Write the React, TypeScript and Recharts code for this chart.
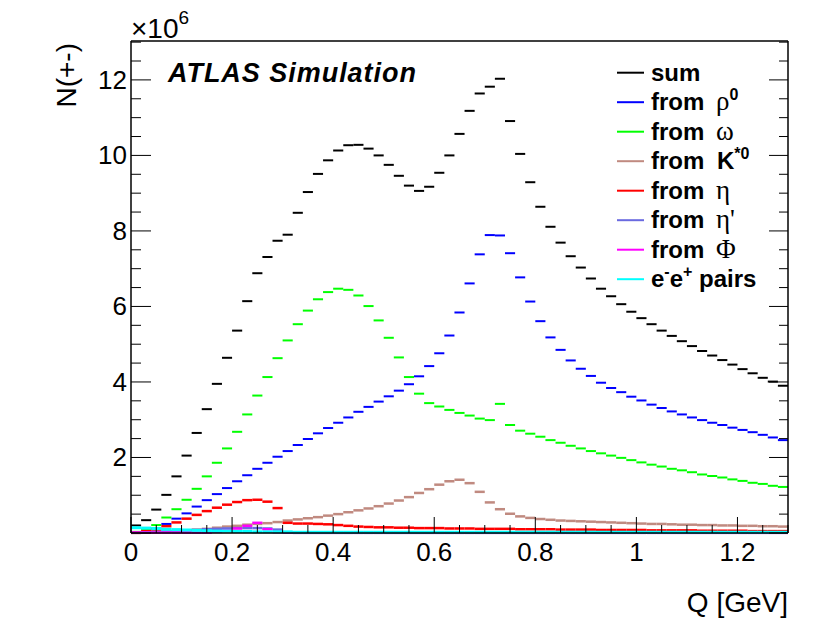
import React from 'react';
import { ComposedChart, Scatter, ErrorBar, XAxis, YAxis, Legend } from 'recharts';

// ---------- data ----------
const qBins = [
  0.01, 0.03, 0.05, 0.07, 0.09, 0.11, 0.13, 0.15, 0.17, 0.19,
  0.21, 0.23, 0.25, 0.27, 0.29, 0.31, 0.33, 0.35, 0.37, 0.39,
  0.41, 0.43, 0.45, 0.47, 0.49, 0.51, 0.53, 0.55, 0.57, 0.59,
  0.61, 0.63, 0.65, 0.67, 0.69, 0.71, 0.73, 0.75, 0.77, 0.79,
  0.81, 0.83, 0.85, 0.87, 0.89, 0.91, 0.93, 0.95, 0.97, 0.99,
  1.01, 1.03, 1.05, 1.07, 1.09, 1.11, 1.13, 1.15, 1.17, 1.19,
  1.21, 1.23, 1.25, 1.27, 1.29,
];
const binHalfWidth = 0.01;

const sumVals = [
  0.20, 0.34, 0.62, 1.01, 1.50, 2.05, 2.65, 3.28, 3.95, 4.64,
  5.36, 6.14, 6.88, 7.31, 7.74, 7.90, 8.48, 9.03, 9.51, 9.87,
  10.13, 10.27, 10.28, 10.18, 10.00, 9.75, 9.46, 9.20, 9.06, 9.17,
  9.54, 10.00, 10.57, 11.18, 11.64, 11.82, 12.03, 10.91, 10.04, 9.29,
  8.64, 8.11, 7.69, 7.33, 7.03, 6.74, 6.47, 6.27, 6.06, 5.86,
  5.69, 5.53, 5.36, 5.22, 5.08, 4.95, 4.82, 4.70, 4.58, 4.46,
  4.34, 4.23, 4.11, 4.01, 3.90,
];
const rhoVals = [
  0.01, 0.04, 0.12, 0.24, 0.38, 0.52, 0.70, 0.87, 1.03, 1.19,
  1.37, 1.53, 1.70, 1.86, 2.02, 2.17, 2.33, 2.49, 2.64, 2.78,
  2.92, 3.06, 3.21, 3.34, 3.48, 3.62, 3.77, 3.94, 4.15, 4.42,
  4.76, 5.23, 5.84, 6.61, 7.38, 7.89, 7.88, 7.41, 6.77, 6.13,
  5.61, 5.18, 4.85, 4.57, 4.35, 4.16, 3.98, 3.84, 3.73, 3.61,
  3.51, 3.40, 3.31, 3.22, 3.14, 3.06, 2.99, 2.92, 2.86, 2.79,
  2.73, 2.67, 2.60, 2.53, 2.46,
];
const omegaVals = [
  0.03, 0.10, 0.21, 0.41, 0.63, 0.88, 1.17, 1.50, 1.86, 2.24,
  2.68, 3.14, 3.64, 4.13, 4.63, 5.10, 5.53, 5.89, 6.19, 6.38,
  6.47, 6.44, 6.29, 6.01, 5.63, 5.17, 4.65, 4.13, 3.69, 3.44,
  3.35, 3.26, 3.18, 3.11, 3.03, 2.99, 3.42, 2.86, 2.71, 2.63,
  2.55, 2.46, 2.39, 2.31, 2.24, 2.17, 2.11, 2.05, 1.99, 1.93,
  1.87, 1.81, 1.76, 1.70, 1.66, 1.61, 1.55, 1.51, 1.47, 1.42,
  1.38, 1.33, 1.30, 1.25, 1.22,
];
const kstarVals = [
  0.00, 0.01, 0.02, 0.03, 0.05, 0.07, 0.09, 0.11, 0.14, 0.17,
  0.19, 0.22, 0.24, 0.26, 0.29, 0.33, 0.36, 0.39, 0.42, 0.46,
  0.50, 0.55, 0.60, 0.65, 0.71, 0.78, 0.86, 0.95, 1.06, 1.16,
  1.28, 1.37, 1.41, 1.32, 1.09, 0.81, 0.63, 0.51, 0.44, 0.40,
  0.37, 0.35, 0.33, 0.32, 0.31, 0.30, 0.29, 0.28, 0.27, 0.26,
  0.25, 0.24, 0.24, 0.23, 0.22, 0.22, 0.21, 0.21, 0.20, 0.20,
  0.19, 0.19, 0.18, 0.18, 0.17,
];
const etaVals = [
  0.02, 0.05, 0.09, 0.18, 0.28, 0.38, 0.48, 0.58, 0.67, 0.75,
  0.82, 0.87, 0.88, 0.83, 0.66, 0.27, 0.25, 0.25, 0.24, 0.23,
  0.21, 0.19, 0.17, 0.16, 0.15, 0.15, 0.14, 0.14, 0.13, 0.13,
  0.13, 0.12, 0.12, 0.12, 0.11, 0.11, 0.11, 0.11, 0.10, 0.10,
  0.10, 0.10, 0.09, 0.09, 0.09, 0.09, 0.08, 0.08, 0.08, 0.08,
  0.08, 0.07, 0.07, 0.07, 0.07, 0.07, 0.06, 0.06, 0.06, 0.06,
  0.06, 0.05, 0.05, 0.05, 0.05,
];
const etaPrimeVals = [
  0.01, 0.02, 0.03, 0.04, 0.05, 0.06, 0.08, 0.10, 0.11, 0.12,
  0.13, 0.13, 0.13, 0.12, 0.09, 0.01, 0.005, 0.005, 0.005, 0.005,
  0.005, 0.005, 0.005, 0.005, 0.005, 0.005, 0.005, 0.005, 0.005, 0.005,
  0.005, 0.005, 0.005, 0.005, 0.005, 0.005, 0.005, 0.005, 0.005, 0.005,
  0.005, 0.005, 0.005, 0.005, 0.005, 0.005, 0.005, 0.005, 0.005, 0.005,
  0.005, 0.005, 0.005, 0.005, 0.005, 0.005, 0.005, 0.005, 0.005, 0.005,
  0.005, 0.005, 0.005, 0.005, 0.005,
];
const phiVals = [
  0.01, 0.01, 0.01, 0.01, 0.01, 0.01, 0.01, 0.01, 0.03, 0.06,
  0.12, 0.19, 0.27, 0.10, 0.02, 0.01, 0.005, 0.005, 0.005, 0.005,
  0.005, 0.005, 0.005, 0.005, 0.005, 0.005, 0.005, 0.005, 0.005, 0.005,
  0.005, 0.005, 0.005, 0.005, 0.005, 0.005, 0.005, 0.005, 0.005, 0.005,
  0.005, 0.005, 0.005, 0.005, 0.005, 0.005, 0.005, 0.005, 0.005, 0.005,
  0.005, 0.005, 0.005, 0.005, 0.005, 0.005, 0.005, 0.005, 0.005, 0.005,
  0.005, 0.005, 0.005, 0.005, 0.005,
];
const eePairVals = [
  0.14, 0.13, 0.12, 0.10, 0.09, 0.08, 0.07, 0.06, 0.05, 0.05,
  0.04, 0.04, 0.03, 0.03, 0.03, 0.03, 0.02, 0.02, 0.02, 0.02,
  0.02, 0.02, 0.02, 0.02, 0.02, 0.02, 0.02, 0.02, 0.02, 0.02,
  0.02, 0.02, 0.02, 0.02, 0.02, 0.02, 0.02, 0.02, 0.02, 0.02,
  0.02, 0.02, 0.02, 0.02, 0.02, 0.02, 0.02, 0.02, 0.02, 0.02,
  0.02, 0.02, 0.02, 0.02, 0.02, 0.02, 0.02, 0.02, 0.02, 0.02,
  0.02, 0.02, 0.02, 0.02, 0.02,
];

const xMajorTicks = [0, 0.2, 0.4, 0.6, 0.8, 1.0, 1.2];
const xTickLabels = ['0', '0.2', '0.4', '0.6', '0.8', '1', '1.2'];
const xMinorTicks = [
  0.05, 0.1, 0.15, 0.25, 0.3, 0.35, 0.45, 0.5, 0.55, 0.65, 0.7, 0.75,
  0.85, 0.9, 0.95, 1.05, 1.1, 1.15, 1.25, 1.3,
];
const yMajorTicks = [0, 2, 4, 6, 8, 10, 12];
const yTickLabels = ['', '2', '4', '6', '8', '10', '12'];
const yMinorTicks = [
  0.5, 1, 1.5, 2.5, 3, 3.5, 4.5, 5, 5.5, 6.5, 7, 7.5, 8.5, 9, 9.5,
  10.5, 11, 11.5, 12.5, 13,
];

// ---------- styling ----------
const SANS = '"Liberation Sans", Arial, Helvetica, sans-serif';
const SERIF = '"Liberation Serif", "DejaVu Serif", serif';

const seriesDefs = [
  { key: 'sum', color: '#000000', vals: sumVals, w: 2 },
  { key: 'rho', color: '#0000ff', vals: rhoVals, w: 2 },
  { key: 'omega', color: '#00ff00', vals: omegaVals, w: 2 },
  { key: 'kstar', color: '#c08a80', vals: kstarVals, w: 2.5 },
  { key: 'eta', color: '#ff0000', vals: etaVals, w: 2.5 },
  { key: 'etaprime', color: '#6a6ae0', vals: etaPrimeVals, w: 2.5 },
  { key: 'phi', color: '#ff00ff', vals: phiVals, w: 2.5 },
  { key: 'ee', color: '#00ffff', vals: eePairVals, w: 3 },
];
const seriesOrder = seriesDefs.map((s) => s.key);

const near = (a: number, b: number) => Math.abs(a - b) < 1e-6;
const xLabelFor = (v: number) => {
  const i = xMajorTicks.findIndex((t) => near(t, v));
  return i >= 0 ? xTickLabels[i] : null;
};
const yLabelFor = (v: number) => {
  const i = yMajorTicks.findIndex((t) => near(t, v));
  return i >= 0 ? yTickLabels[i] : null;
};

const BottomTick = (props: any) => {
  const { x, y, payload } = props;
  const lab = xLabelFor(payload.value);
  const major = lab !== null;
  return (
    <g>
      <line x1={x} x2={x} y1={y} y2={y - (major ? 16 : 8)} stroke="#000" strokeWidth={1} />
      {major && (
        <text x={x} y={y + 28} textAnchor="middle" fontSize={26} fontFamily={SANS} fill="#000">
          {lab}
        </text>
      )}
    </g>
  );
};
const TopTick = (props: any) => {
  const { x, y, payload } = props;
  const major = xLabelFor(payload.value) !== null;
  return <line x1={x} x2={x} y1={y} y2={y + (major ? 14 : 7)} stroke="#000" strokeWidth={1} />;
};
const LeftTick = (props: any) => {
  const { x, y, payload } = props;
  const lab = yLabelFor(payload.value);
  const major = lab !== null;
  return (
    <g>
      <line x1={x} x2={x + (major ? 20 : 10)} y1={y} y2={y} stroke="#000" strokeWidth={1} />
      {major && lab !== '' && (
        <text x={x - 4} y={y + 9} textAnchor="end" fontSize={26} fontFamily={SANS} fill="#000">
          {lab}
        </text>
      )}
    </g>
  );
};
const RightTick = (props: any) => {
  const { x, y, payload } = props;
  const major = yLabelFor(payload.value) !== null;
  return <line x1={x} x2={x - (major ? 19 : 9)} y1={y} y2={y} stroke="#000" strokeWidth={1} />;
};

const NoShape = () => <g />;

const GREEK_X = 116;
const legendText = (key: string, base: number) => {
  const common = { x: 51, y: base, fontFamily: SANS, fontWeight: 'bold' as const, fontSize: 24, fill: '#000' };
  const greek = (s: string) => (
    <tspan x={GREEK_X} fontFamily={SERIF} fontWeight="normal" fontSize={27}>
      {s}
    </tspan>
  );
  switch (key) {
    case 'sum':
      return <text {...common}>sum</text>;
    case 'rho':
      return (
        <text {...common}>
          from{greek('ρ')}
          <tspan dy={-10} fontSize={16}>0</tspan>
        </text>
      );
    case 'omega':
      return <text {...common}>from{greek('ω')}</text>;
    case 'kstar':
      return (
        <text {...common}>
          from<tspan x={GREEK_X + 1}>K</tspan>
          <tspan dy={-10} fontSize={16}>*0</tspan>
        </text>
      );
    case 'eta':
      return <text {...common}>from{greek('η')}</text>;
    case 'etaprime':
      return <text {...common}>from{greek("η'")}</text>;
    case 'phi':
      return <text {...common}>from{greek('Φ')}</text>;
    default:
      return (
        <text {...common}>
          e<tspan dy={-10} fontSize={16}>-</tspan>
          <tspan dy={10}>e</tspan>
          <tspan dy={-10} fontSize={16}>+</tspan>
          <tspan dy={10}> pairs</tspan>
        </text>
      );
  }
};

const LegendBox = (props: any) => {
  const payload = [...(props.payload || [])].sort(
    (a: any, b: any) => seriesOrder.indexOf(String(a.value)) - seriesOrder.indexOf(String(b.value)),
  );
  return (
    <svg width={230} height={250} style={{ overflow: 'visible' }}>
      {payload.map((p: any, i: number) => {
        const ly = 22.7 + 29.5 * i;
        return (
          <g key={String(p.value)}>
            <line x1={17} x2={44} y1={ly} y2={ly} stroke={p.color} strokeWidth={2} />
            {legendText(String(p.value), ly + 8)}
          </g>
        );
      })}
    </svg>
  );
};

export default function App() {
  return (
    <div style={{ position: 'absolute', left: 0, top: 0, width: 830, height: 624, background: '#fff' }}>
      <ComposedChart
        width={830}
        height={624}
        margin={{ top: 40, right: 41, bottom: 90, left: 130 }}
      >
        <XAxis
          xAxisId={0}
          dataKey="x"
          type="number"
          domain={[0, 1.3]}
          allowDataOverflow
          ticks={[...xMajorTicks, ...xMinorTicks]}
          interval={0}
          height={1}
          tickSize={0}
          tickMargin={0}
          tickLine={false}
          tick={(p: any) => <BottomTick {...p} />}
          axisLine={{ stroke: '#000', strokeWidth: 1.5 }}
          label={{
            content: (lp: any) => {
              const vb = lp.viewBox || {};
              return (
                <text x={vb.x + vb.width} y={vb.y + 79} textAnchor="end" fontSize={28} fontFamily={SANS} fill="#000">
                  Q [GeV]
                </text>
              );
            },
          }}
        />
        <XAxis
          xAxisId="top"
          orientation="top"
          type="number"
          domain={[0, 1.3]}
          allowDataOverflow
          ticks={[...xMajorTicks, ...xMinorTicks]}
          interval={0}
          height={1}
          tickSize={0}
          tickMargin={0}
          tickLine={false}
          tick={(p: any) => <TopTick {...p} />}
          axisLine={{ stroke: '#000', strokeWidth: 1.5 }}
        />
        <YAxis
          yAxisId={0}
          dataKey="y"
          type="number"
          domain={[0, 13.03]}
          allowDataOverflow
          ticks={[...yMajorTicks, ...yMinorTicks]}
          interval={0}
          width={1}
          tickSize={0}
          tickMargin={0}
          tickLine={false}
          tick={(p: any) => <LeftTick {...p} />}
          axisLine={{ stroke: '#000', strokeWidth: 1.5 }}
          label={{
            content: (lp: any) => {
              const vb = lp.viewBox || {};
              const tx = vb.x + vb.width - 55;
              const ty = vb.y + 2;
              return (
                <text
                  x={tx}
                  y={ty}
                  transform={`rotate(-90 ${tx} ${ty})`}
                  textAnchor="end"
                  fontSize={28}
                  fontFamily={SANS}
                  fill="#000"
                >
                  N(+-)
                </text>
              );
            },
          }}
        />
        <YAxis
          yAxisId="right"
          orientation="right"
          type="number"
          domain={[0, 13.03]}
          allowDataOverflow
          ticks={[...yMajorTicks, ...yMinorTicks]}
          interval={0}
          width={1}
          tickSize={0}
          tickMargin={0}
          tickLine={false}
          tick={(p: any) => <RightTick {...p} />}
          axisLine={{ stroke: '#000', strokeWidth: 1.5 }}
        />
        {seriesDefs.map((s) => (
          <Scatter
            key={s.key}
            name={s.key}
            data={qBins.map((x, i) => ({ x, y: s.vals[i], ex: binHalfWidth }))}
            fill={s.color}
            shape={NoShape}
            isAnimationActive={false}
          >
            <ErrorBar
              dataKey="ex"
              direction="x"
              width={0}
              stroke={s.color}
              strokeWidth={s.w}
              isAnimationActive={false}
            />
          </Scatter>
        ))}
        <Legend
          layout="vertical"
          align="center"
          verticalAlign="middle"
          content={(p: any) => <LegendBox {...p} />}
          wrapperStyle={{ position: 'absolute', left: 600, top: 50, width: 230, height: 250 }}
        />
      </ComposedChart>
      <svg
        width={830}
        height={624}
        style={{ position: 'absolute', left: 0, top: 0, pointerEvents: 'none' }}
      >
        <text
          x={168}
          y={82}
          fontFamily={SANS}
          fontWeight="bold"
          fontStyle="italic"
          fontSize={27}
          textLength={248}
          lengthAdjust="spacing"
          fill="#000"
        >
          ATLAS Simulation
        </text>
        <text x={131} y={38} fontFamily={SANS} fontSize={28} fill="#000">
          ×10
          <tspan dy={-14} fontSize={19}>6</tspan>
        </text>
      </svg>
    </div>
  );
}
